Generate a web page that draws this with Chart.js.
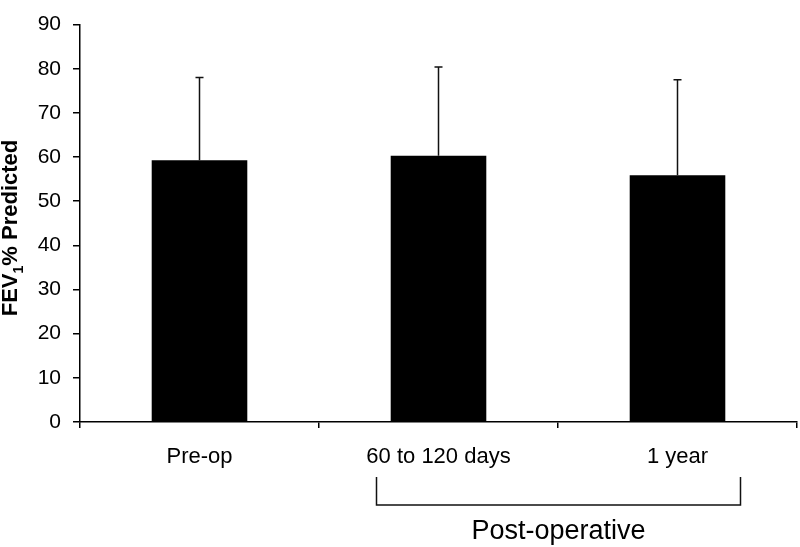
<!DOCTYPE html>
<html>
<head>
<meta charset="utf-8">
<script src="https://cdn.jsdelivr.net/npm/chart.js@4.4.1/dist/chart.umd.min.js"></script>
<style>
  html, body { margin: 0; padding: 0; background: #fff; }
  #wrap { width: 800px; height: 547px; position: relative; }
</style>
</head>
<body>
<div id="wrap"><canvas id="fevChart"></canvas></div>
<script>
/* ---------- data ---------- */
const categories = ["Pre-op", "60 to 120 days", "1 year"];
const fevPredicted = [59.3, 60.3, 55.9];
const fevSD = [18.7, 20.1, 21.6];
const yTicks = [0, 10, 20, 30, 40, 50, 60, 70, 80, 90];
const groupLabel = "Post-operative";

const FONT = "'Liberation Sans', Arial, sans-serif";

/* ---------- error bars (upper only) ---------- */
const errorBars = {
  id: "errorBars",
  afterDatasetsDraw(chart) {
    const { ctx, scales: { y } } = chart;
    const meta = chart.getDatasetMeta(0);
    ctx.save();
    ctx.strokeStyle = "#111";
    ctx.lineWidth = 1.5;
    meta.data.forEach((bar, i) => {
      const top = y.getPixelForValue(fevPredicted[i] + fevSD[i]);
      ctx.beginPath();
      ctx.moveTo(bar.x, bar.y);
      ctx.lineTo(bar.x, top);
      ctx.moveTo(bar.x - 4, top);
      ctx.lineTo(bar.x + 4, top);
      ctx.stroke();
    });
    ctx.restore();
  }
};

/* ---------- y title with subscript + post-op bracket ---------- */
const annotations = {
  id: "annotations",
  afterDraw(chart) {
    const { ctx, scales: { x } } = chart;
    ctx.save();
    ctx.fillStyle = "#000";

    // y axis title, rotated
    ctx.translate(11, 228);
    ctx.rotate(-Math.PI / 2);
    ctx.textBaseline = "middle";
    const big = "bold 22px " + FONT, small = "bold 14px " + FONT;
    ctx.font = big;
    const w1 = ctx.measureText("FEV").width;
    const w3 = ctx.measureText("% Predicted").width;
    ctx.font = small;
    const w2 = ctx.measureText("1").width;
    let sx = -(w1 + w2 + w3) / 2;
    ctx.font = big;
    ctx.textAlign = "left";
    ctx.fillText("FEV", sx, 0);
    sx += w1;
    ctx.font = small;
    ctx.fillText("1", sx, 8);
    sx += w2;
    ctx.font = big;
    ctx.fillText("% Predicted", sx, 0);
    ctx.setTransform(1, 0, 0, 1, 0, 0);

    // bracket under the post-operative categories
    const left = x.getPixelForValue(1) - 62;
    const right = x.getPixelForValue(2) + 63;
    ctx.strokeStyle = "#111";
    ctx.lineWidth = 1.5;
    ctx.beginPath();
    ctx.moveTo(left, 477);
    ctx.lineTo(left, 505);
    ctx.lineTo(right, 505);
    ctx.lineTo(right, 477);
    ctx.stroke();

    ctx.font = "27px " + FONT;
    ctx.textAlign = "center";
    ctx.textBaseline = "middle";
    ctx.fillText(groupLabel, (left + right) / 2, 532);
    ctx.restore();
  }
};

new Chart(document.getElementById("fevChart"), {
  type: "bar",
  data: {
    labels: categories,
    datasets: [{
      data: fevPredicted,
      backgroundColor: "#000",
      borderWidth: 0,
      categoryPercentage: 1,
      barPercentage: 0.4
    }]
  },
  options: {
    responsive: true,
    maintainAspectRatio: false,
    animation: false,
    layout: { padding: { top: 10, right: 3, left: 0, bottom: 0 } },
    plugins: { legend: { display: false }, tooltip: { enabled: false } },
    scales: {
      x: {
        offset: true,
        border: { color: "#000", width: 1.5 },
        grid: { offset: true, drawOnChartArea: false, drawTicks: true, tickLength: 6, color: "#000", lineWidth: 1.5 },
        ticks: { color: "#000", font: { family: FONT, size: 22 }, padding: 16, maxRotation: 0 },
        afterFit(s) { s.height = 125; }
      },
      y: {
        min: 0,
        max: 90,
        afterBuildTicks(s) { s.ticks = yTicks.map(v => ({ value: v })); },
        border: { color: "#000", width: 1.5 },
        grid: { drawOnChartArea: false, drawTicks: true, tickLength: 7, color: "#000", lineWidth: 1.5 },
        ticks: { color: "#000", font: { family: FONT, size: 21 }, padding: 12 },
        afterFit(s) { s.width = 80; }
      }
    }
  },
  plugins: [errorBars, annotations]
});
</script>
</body>
</html>
